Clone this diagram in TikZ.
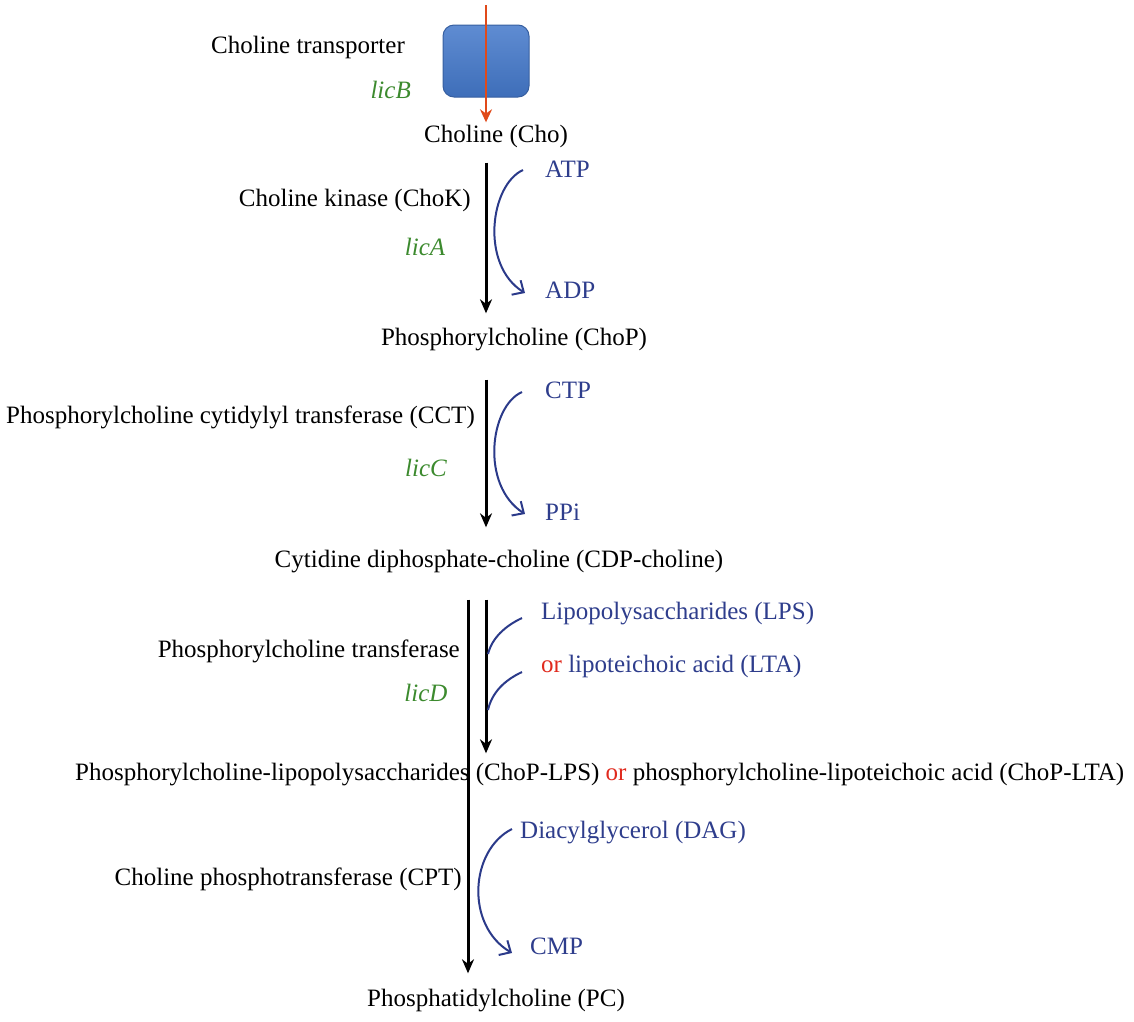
\documentclass[tikz,border=0pt]{standalone}
\usepackage{fontspec}
\setmainfont{Liberation Serif}
\usetikzlibrary{arrows.meta,calc}
\definecolor{tblue}{HTML}{2E3D8C}
\definecolor{cblue}{HTML}{2B3A8A}
\definecolor{tgreen}{HTML}{3C8A2E}
\definecolor{tred}{HTML}{E02A1E}
\definecolor{aorange}{HTML}{E04A1A}
\tikzset{
  lbl/.style={font=\fontsize{25}{29}\selectfont, inner sep=0pt, text height=17pt, text depth=6pt},
  gene/.style={lbl, text=tgreen, font=\fontsize{25}{29}\selectfont\itshape},
  cof/.style={lbl, text=tblue, anchor=west},
  mainarrow/.style={line width=3pt, -{Stealth[length=14pt,width=12pt]}},
  redarrow/.style={line width=2.8pt, draw=aorange, -{Stealth[length=13pt,width=12pt]}},
  sidecurve/.style={line width=2pt, draw=cblue, -{Straight Barb[length=9pt,width=17pt,line width=2pt]}},
  sidecurvenoarrow/.style={line width=2pt, draw=cblue},
  transporter/.style={draw={rgb,255:red,55;green,95;blue,160}, line width=1pt, rounded corners=11pt,
     minimum width=86pt, minimum height=72pt, inner sep=0pt}
}
\begin{document}
\begin{tikzpicture}[x=1pt,y=-1pt]
\useasboundingbox (0,0) rectangle (1134,1021);
% transporter
\node[lbl, anchor=east] (trl) at (405,48) {Choline transporter};
\node[gene, anchor=east] (licb) at (411,93) {licB};
\node[transporter, top color={rgb,255:red,95;green,140;blue,210}, bottom color={rgb,255:red,62;green,110;blue,185}] (tr) at (486,61) {};
\coordinate (redtop) at (486,5);
\node[lbl] (cho) at (496,137) {Choline (Cho)};
\draw[redarrow] (redtop) -- ($(cho.north -| redtop)+(0,-3)$);
% step 1
\coordinate (xa) at (486,0);
\node[lbl] (chop) at (514,340) {Phosphorylcholine (ChoP)};
\draw[mainarrow] ($(cho.south -| xa)+(0,14)$) -- ($(chop.north -| xa)+(0,-15)$);
\node[lbl, anchor=east] (chok) at (471,201) {Choline kinase (ChoK)};
\node[gene] (lica) at (425,250) {licA};
\node[cof] (atp) at (545,172) {ATP};
\node[cof] (adp) at (545,293) {ADP};
\draw[sidecurve] ($(atp.west)+(-22,-2)$) .. controls (490,185) and (480,265) .. ($(adp.west)+(-20,0)$);
% step 2
\node[lbl] (cdp) at (499,562) {Cytidine diphosphate-choline (CDP-choline)};
\draw[mainarrow] ($(chop.south -| xa)+(0,28)$) -- ($(cdp.north -| xa)+(0,-23)$);
\node[lbl, anchor=east] (cct) at (475,418) {Phosphorylcholine cytidylyl transferase (CCT)};
\node[gene] (licc) at (426,471) {licC};
\node[cof] (ctp) at (545,393) {CTP};
\node[cof] (ppi) at (545,515) {PPi};
\draw[sidecurve] ($(ctp.west)+(-23,-1)$) .. controls (490,406) and (480,485) .. ($(ppi.west)+(-20,-1)$);
% step 3
\node[lbl, anchor=west] (choplps) at (75,775) {Phosphorylcholine-lipopolysaccharides (ChoP-LPS) {\color{tred}or} phosphorylcholine-lipoteichoic acid (ChoP-LTA)};
\draw[mainarrow] ($(cdp.south -| xa)+(0,26)$) -- ($(choplps.north -| xa)+(0,-10)$);
\node[lbl, anchor=east] (plt) at (460,652) {Phosphorylcholine transferase};
\node[gene] (licd) at (426,696) {licD};
\node[cof] (lps) at (541,614) {Lipopolysaccharides (LPS)};
\node[cof] (lta) at (541,667) {{\color{tred}or} lipoteichoic acid (LTA)};
\draw[sidecurvenoarrow] ($(lps.west)+(-19,4)$) .. controls (505,626) and (492,638) .. (488,654);
\draw[sidecurvenoarrow] ($(lta.west)+(-19,5)$) .. controls (505,680) and (492,692) .. (488,710);
% step 4
\coordinate (xb) at (468,0);
\node[lbl] (pc) at (496,1001) {Phosphatidylcholine (PC)};
\draw[mainarrow] ($(cdp.south -| xb)+(0,26)$) -- ($(pc.north -| xb)+(0,-16)$);
\node[lbl, anchor=east] (cpt) at (462,880) {Choline phosphotransferase (CPT)};
\node[cof] (dag) at (520,833) {Diacylglycerol (DAG)};
\node[cof] (cmp) at (530,949) {CMP};
\draw[sidecurve] ($(dag.west)+(-8,-4)$) .. controls (470,850) and (465,925) .. ($(cmp.west)+(-18,4)$);
\end{tikzpicture}
\end{document}
